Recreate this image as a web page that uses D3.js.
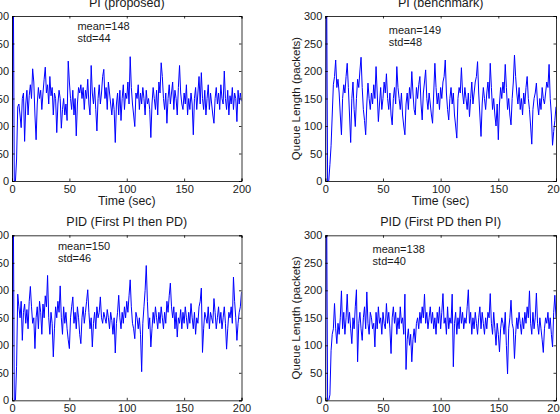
<!DOCTYPE html>
<html>
<head>
<meta charset="utf-8">
<script src="https://cdn.jsdelivr.net/npm/d3@7"></script>
<style>
  body { margin: 0; background: white; }
  text { font-family: "Liberation Sans", Arial, sans-serif; fill: #1a1a1a; }
</style>
</head>
<body>
<script>
var WIDTH = 560; //size of the window
var HEIGHT = 414;

// queue length samples, one per second from t=0 to t=200
var piProposed = [
  0, 420, 0, 0, 40, 135, 140, 120, 97, 150,
  160, 72, 140, 165, 120, 155, 175, 150, 204, 180,
  120, 75, 140, 170, 150, 165, 130, 160, 185, 207,
  160, 175, 140, 190, 155, 170, 120, 160, 150, 88,
  140, 165, 150, 96, 130, 150, 120, 140, 110, 218,
  180, 150, 130, 165, 120, 150, 82, 140, 170, 160,
  175, 150, 170, 130, 165, 150, 185, 140, 120, 210,
  160, 140, 170, 130, 91, 150, 175, 140, 160, 190,
  203, 150, 170, 130, 180, 160, 140, 120, 150, 130,
  70, 140, 160, 120, 165, 110, 150, 175, 130, 160,
  150, 180, 140, 226, 170, 140, 120, 99, 160, 150,
  175, 130, 160, 140, 170, 150, 120, 165, 140, 150,
  130, 79, 140, 170, 150, 130, 165, 120, 180, 160,
  215, 190, 150, 130, 160, 105, 150, 175, 140, 160,
  180, 130, 165, 150, 120, 170, 210, 160, 140, 130,
  160, 140, 175, 120, 150, 130, 160, 140, 84, 150,
  170, 130, 160, 190, 140, 197, 150, 130, 165, 120,
  150, 175, 130, 160, 140, 120, 105, 150, 170, 140,
  160, 130, 175, 150, 140, 200, 150, 130, 165, 120,
  155, 140, 170, 130, 160, 150, 108, 165, 140, 160,
  145
];
var piBenchmark = [
  0, 420, 0, 0, 30, 64, 120, 175, 190, 220,
  170, 185, 160, 120, 84, 150, 175, 160, 190, 214,
  170, 120, 70, 150, 180, 130, 99, 150, 185, 170,
  200, 225, 170, 130, 110, 84, 140, 178, 150, 130,
  160, 140, 175, 150, 208, 160, 108, 140, 170, 130,
  150, 180, 160, 195, 150, 130, 160, 120, 102, 150,
  170, 140, 208, 170, 150, 130, 160, 120, 100, 84,
  140, 160, 130, 170, 150, 199, 160, 130, 120, 170,
  150, 175, 190, 140, 111, 160, 180, 202, 150, 130,
  160, 140, 120, 105, 160, 214, 170, 140, 160, 130,
  170, 150, 180, 190, 220, 160, 130, 111, 150, 170,
  140, 160, 120, 100, 78, 150, 170, 160, 206, 160,
  140, 170, 150, 130, 160, 117, 150, 180, 140, 160,
  180, 190, 217, 160, 120, 81, 140, 170, 150, 130,
  160, 180, 150, 214, 170, 130, 150, 120, 100, 140,
  75, 140, 170, 150, 180, 160, 212, 170, 130, 150,
  120, 102, 150, 180, 229, 190, 160, 140, 170, 130,
  150, 120, 160, 140, 170, 190, 150, 130, 100, 67,
  130, 150, 160, 178, 140, 120, 150, 130, 170, 150,
  140, 160, 180, 170, 212, 150, 120, 65, 90, 110,
  135
];
var pidPiPd = [
  0, 420, 0, 0, 62, 193, 170, 150, 180, 109,
  160, 175, 140, 165, 130, 180, 207, 170, 140, 150,
  94, 150, 170, 130, 180, 160, 120, 175, 150, 190,
  170, 227, 150, 120, 160, 140, 79, 130, 170, 150,
  180, 160, 208, 150, 120, 170, 140, 160, 130, 110,
  94, 150, 170, 188, 140, 160, 130, 170, 150, 120,
  103, 150, 170, 140, 160, 180, 201, 160, 130, 150,
  97, 140, 160, 130, 170, 150, 160, 188, 150, 140,
  160, 150, 140, 165, 150, 130, 160, 145, 120, 150,
  86, 140, 160, 191, 150, 130, 160, 140, 170, 150,
  180, 160, 190, 219, 170, 140, 130, 112, 160, 150,
  130, 150, 120, 52, 140, 170, 200, 245, 180, 130,
  150, 97, 130, 160, 140, 170, 150, 130, 160, 140,
  170, 150, 130, 160, 140, 180, 160, 190, 213, 170,
  150, 170, 130, 160, 115, 150, 140, 165, 130, 160,
  140, 170, 150, 130, 160, 140, 176, 150, 130, 160,
  120, 150, 140, 170, 180, 204, 87, 130, 160, 150,
  140, 170, 130, 160, 150, 140, 185, 160, 130, 150,
  170, 140, 160, 130, 150, 170, 140, 93, 130, 160,
  150, 170, 140, 224, 180, 150, 109, 140, 160, 170,
  197
];
var pidPdPi = [
  0, 420, 0, 0, 10, 90, 120, 130, 176, 130,
  103, 140, 120, 150, 199, 130, 160, 120, 150, 193,
  140, 160, 130, 103, 150, 130, 170, 201, 70, 140,
  160, 130, 109, 150, 170, 130, 197, 140, 120, 160,
  150, 130, 140, 97, 160, 130, 170, 140, 150, 120,
  160, 140, 130, 176, 140, 160, 130, 85, 150, 170,
  140, 160, 120, 150, 130, 170, 140, 150, 120, 193,
  56, 110, 130, 100, 120, 70, 110, 130, 105, 140,
  150, 130, 160, 140, 170, 150, 193, 140, 160, 130,
  150, 170, 140, 160, 130, 150, 120, 160, 140, 170,
  130, 160, 194, 140, 150, 120, 170, 130, 150, 140,
  193, 61, 140, 160, 120, 150, 130, 170, 140, 160,
  130, 150, 140, 170, 201, 140, 160, 120, 150, 130,
  160, 140, 120, 150, 170, 130, 160, 140, 120, 150,
  130, 160, 150, 194, 140, 120, 160, 130, 100, 140,
  120, 88, 130, 150, 140, 120, 160, 100, 48, 130,
  150, 182, 140, 130, 76, 120, 150, 130, 160, 140,
  120, 150, 130, 160, 140, 170, 150, 199, 140, 120,
  160, 130, 150, 195, 140, 120, 150, 130, 110, 87,
  130, 150, 140, 160, 130, 150, 120, 97, 160, 191,
  150
];

var xTicks = [0, 50, 100, 150, 200];
var yTicks = [0, 50, 100, 150, 200, 250, 300];

// one entry per subplot: title, series, stats text and where it sits (data coords)
var titles = ["PI (proposed)", "PI (benchmark)", "PID (First PI then PD)", "PID (First PD then PI)"];
var series = [piProposed, piBenchmark, pidPiPd, pidPdPi];
var means = [148, 149, 150, 138];
var stds = [44, 48, 46, 40];
var statT = [57, 55, 40, 41];
var statV = [275, 268, 274, 268];
var showXLabel = [true, true, false, false];

// plot boxes in pixels (the figure is cropped at the left and top)
var boxes = [
  {x: 12, y: 16, w: 229.5, h: 165},
  {x: 325.3, y: 16, w: 230.7, h: 165},
  {x: 12, y: 235.3, w: 229.5, h: 165},
  {x: 325.3, y: 235.3, w: 230.7, h: 165}
];

var svg = d3.select("body").append("svg")
    .attr("width", WIDTH)
    .attr("height", HEIGHT);

var TICK = 2.5;

boxes.forEach(function(b, i) {
  var x = d3.scaleLinear().domain([0, 200]).range([0, b.w]);
  var y = d3.scaleLinear().domain([0, 300]).range([b.h, 0]);
  var g = svg.append("g").attr("transform", "translate(" + b.x + "," + b.y + ")");

  g.append("clipPath").attr("id", "clip" + i)
    .append("rect").attr("width", b.w).attr("height", b.h);

  var line = d3.line()
      .x(function(d, k) { return x(k); })
      .y(function(d) { return y(d); });

  g.append("path")
    .datum(series[i])
    .attr("clip-path", "url(#clip" + i + ")")
    .attr("fill", "none")
    .attr("stroke", "#0000ff")
    .attr("stroke-width", 1)
    .attr("stroke-linejoin", "round")
    .attr("d", line);

  // matlab-ish axes: inward ticks on all four sides
  var bottom = g.append("g").attr("transform", "translate(0," + b.h + ")")
    .call(d3.axisBottom(x).tickValues(xTicks).tickSize(-TICK).tickPadding(4).tickFormat(d3.format("d")));
  var top = g.append("g")
    .call(d3.axisTop(x).tickValues(xTicks).tickSize(-TICK).tickFormat(""));
  var left = g.append("g")
    .call(d3.axisLeft(y).tickValues(yTicks).tickSize(-TICK).tickPadding(3).tickFormat(d3.format("d")));
  var right = g.append("g").attr("transform", "translate(" + b.w + ",0)")
    .call(d3.axisRight(y).tickValues(yTicks).tickSize(-TICK).tickFormat(""));

  [bottom, top, left, right].forEach(function(a) {
    a.select(".domain").attr("stroke", "#000").attr("stroke-width", 0.8);
    a.selectAll(".tick line").attr("stroke", "#000").attr("stroke-width", 0.8);
    a.selectAll("text").style("font-size", "11px").attr("fill", "#1a1a1a")
      .style("font-family", "'Liberation Sans', Arial, sans-serif");
  });
  bottom.selectAll("text").attr("dy", "0.71em").attr("y", 4);

  g.append("text")
    .attr("x", b.w / 2).attr("y", i < 2 ? -9 : -9.5)
    .attr("text-anchor", "middle")
    .style("font-size", "12.5px")
    .text(titles[i]);

  if (showXLabel[i]) {
    g.append("text")
      .attr("x", b.w / 2).attr("y", b.h + 23.5)
      .attr("text-anchor", "middle")
      .style("font-size", "12.3px")
      .text("Time (sec)");
  }

  g.append("text")
    .attr("transform", "translate(-25.5," + (b.h / 2) + ") rotate(-90)")
    .attr("text-anchor", "middle")
    .style("font-size", "11.5px")
    .text("Queue Length (packets)");

  g.append("text")
    .attr("x", x(statT[i])).attr("y", y(statV[i]))
    .style("font-size", "11px")
    .text("mean=" + means[i]);
  g.append("text")
    .attr("x", x(statT[i])).attr("y", y(statV[i]) + 12.2)
    .style("font-size", "11px")
    .text("std=" + stds[i]);
});
</script>
</body>
</html>
